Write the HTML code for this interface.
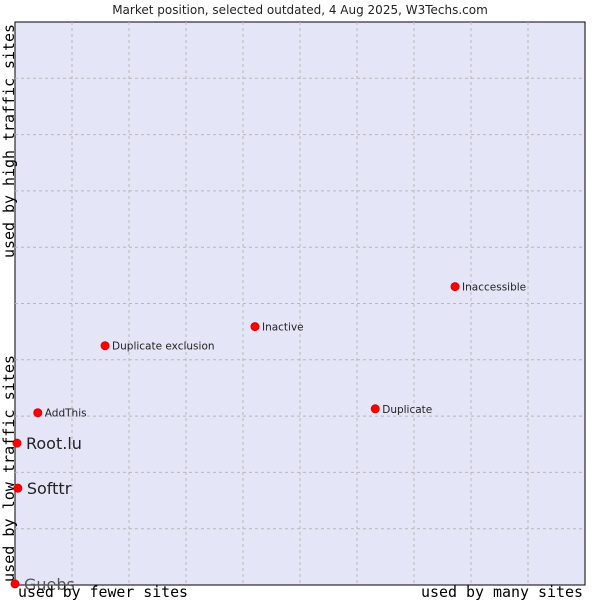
<!DOCTYPE html>
<html><head><meta charset="utf-8"><style>
body{margin:0;background:#fff;width:600px;height:600px;overflow:hidden}
svg{display:block}
</style></head><body>
<svg id="chart" width="600" height="600" xmlns="http://www.w3.org/2000/svg">
<text x="300" y="14" text-anchor="middle" font-family="DejaVu Sans, sans-serif" font-size="12" fill="#222">Market position, selected outdated, 4 Aug 2025, W3Techs.com</text>
<rect x="15" y="22" width="570" height="563" fill="#e4e6f8" stroke="#000" stroke-width="1"/>
<g id="grid"></g>
<g id="marks"></g>
<text x="18" y="597" textLength="170" lengthAdjust="spacingAndGlyphs" font-family="DejaVu Sans Mono, Liberation Mono, monospace" font-size="15" fill="#000">used by fewer sites</text>
<text x="583" y="597" text-anchor="end" textLength="162" lengthAdjust="spacingAndGlyphs" font-family="DejaVu Sans Mono, Liberation Mono, monospace" font-size="15" fill="#000">used by many sites</text>
<text transform="translate(14,582) rotate(-90)" textLength="227" lengthAdjust="spacingAndGlyphs" font-family="DejaVu Sans Mono, Liberation Mono, monospace" font-size="15" fill="#000">used by low traffic sites</text>
<text transform="translate(14,258) rotate(-90)" textLength="234" lengthAdjust="spacingAndGlyphs" font-family="DejaVu Sans Mono, Liberation Mono, monospace" font-size="15" fill="#000">used by high traffic sites</text>
</svg>
<script>
const names = ["Guebs","Softtr","Root.lu","AddThis","Duplicate exclusion","Inactive","Duplicate","Inaccessible"];
const xValues = [0,0.5,0.35,4.0,15.8,42.1,63.2,77.2];
const yValues = [0.2,17.2,25.2,30.6,42.5,45.9,31.3,53.0];
const bigLabel = [true,true,true,false,false,false,false,false];
const X0=15,W=570,Y0=585,H=563;
const sx=v=>X0+v/100*W, sy=v=>Y0-v/100*H;
const NS="http://www.w3.org/2000/svg";
const grid=document.getElementById('grid');
for(let i=1;i<10;i++){
  const v=document.createElementNS(NS,'line');
  
  
  v.setAttribute('x1',sx(i*10));v.setAttribute('x2',sx(i*10));v.setAttribute('y1',22);v.setAttribute('y2',585);
  v.setAttribute('stroke','#b8b8b8');v.setAttribute('stroke-dasharray','3,3');grid.appendChild(v);
  const h=document.createElementNS(NS,'line');
  
  
  h.setAttribute('y1',sy(i*10));h.setAttribute('y2',sy(i*10));h.setAttribute('x1',15);h.setAttribute('x2',585);
  h.setAttribute('stroke','#b8b8b8');h.setAttribute('stroke-dasharray','3,3');grid.appendChild(h);
}
const marks=document.getElementById('marks');
names.forEach((n,i)=>{
  const x=sx(xValues[i]),y=sy(yValues[i]);
  const c=document.createElementNS(NS,'circle');
  
  
  c.setAttribute('cx',x);c.setAttribute('cy',y);c.setAttribute('r','4');
  c.setAttribute('fill','#ff0000');c.setAttribute('stroke','#e00000');c.setAttribute('stroke-width','1');
  marks.appendChild(c);
  const t=document.createElementNS(NS,'text');
  
  
  t.setAttribute('x',x+(bigLabel[i]?9:7));t.setAttribute('y',y+(bigLabel[i]?6:4));
  t.setAttribute('font-family','DejaVu Sans, sans-serif');
  t.setAttribute('font-size',bigLabel[i]?'16':'10.5');
  t.setAttribute('fill',i===0?'#555':'#222');
  t.textContent=n;marks.appendChild(t);
});
</script>
</body></html>
